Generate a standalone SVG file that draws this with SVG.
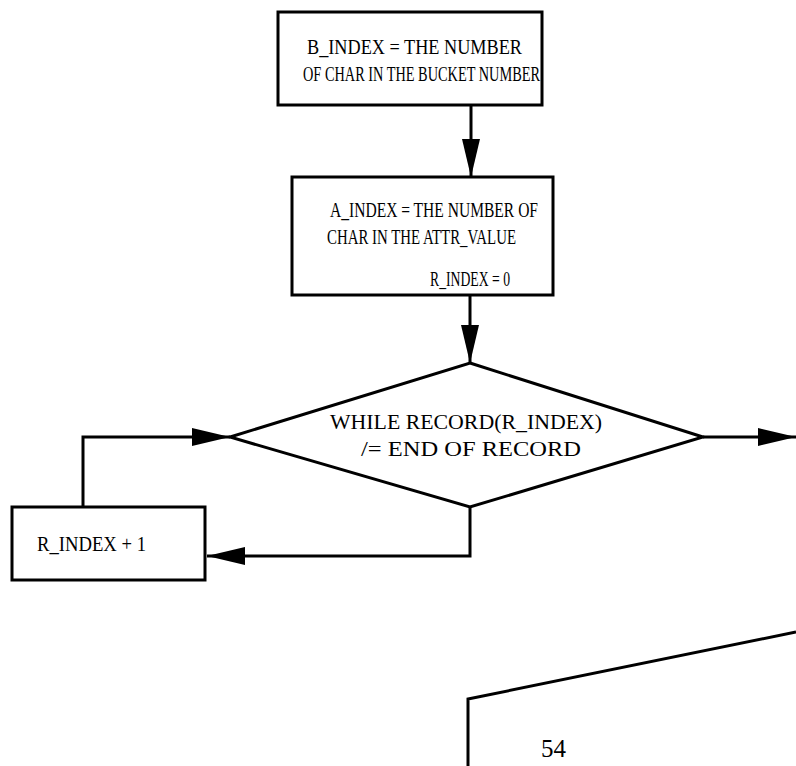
<svg xmlns="http://www.w3.org/2000/svg" width="796" height="766" viewBox="0 0 796 766">
<style>
.s{fill:#fff;stroke:#000;stroke-width:3;stroke-linejoin:miter}
.l{fill:none;stroke:#000;stroke-width:3}
.t{font-family:"Liberation Serif","Times New Roman",serif;font-size:20px;fill:#000}
</style>
<defs>
<marker id="ah" markerUnits="userSpaceOnUse" markerWidth="38" markerHeight="18" refX="38" refY="9" orient="auto">
<path d="M0,0 L38,9 L0,18 Z" fill="#000"/>
</marker>
</defs>
<rect width="796" height="766" fill="#fff"/>
<g id="connectors">
<line class="l" x1="471" y1="105" x2="471" y2="177" marker-end="url(#ah)"/>
<line class="l" x1="470" y1="295" x2="470" y2="363" marker-end="url(#ah)"/>
<line class="l" x1="703" y1="437" x2="796" y2="437" marker-end="url(#ah)"/>
<polyline class="l" points="470,507 470,556 207,556" marker-end="url(#ah)"/>
<polyline class="l" points="83,507 83,437 230,437" marker-end="url(#ah)"/>
</g>
<g id="b_index">
<rect class="s" x="278" y="12" width="264" height="93"/>
<text class="t" x="307" y="54" textLength="215" lengthAdjust="spacingAndGlyphs">B_INDEX = THE NUMBER</text>
<text class="t" x="303" y="81" textLength="237" lengthAdjust="spacingAndGlyphs">OF CHAR IN THE BUCKET NUMBER</text>
</g>
<g id="a_index">
<rect class="s" x="292" y="177" width="261" height="118"/>
<text class="t" x="330" y="217" textLength="208" lengthAdjust="spacingAndGlyphs">A_INDEX = THE NUMBER OF</text>
<text class="t" x="327" y="244" textLength="189" lengthAdjust="spacingAndGlyphs">CHAR IN THE ATTR_VALUE</text>
<text class="t" x="430" y="286" textLength="80" lengthAdjust="spacingAndGlyphs">R_INDEX = 0</text>
</g>
<g id="while">
<polygon class="s" points="470,363 703,437 470,507 230,437"/>
<text class="t" x="330" y="429" textLength="272" lengthAdjust="spacingAndGlyphs">WHILE RECORD(R_INDEX)</text>
<text class="t" x="361" y="456" textLength="220" lengthAdjust="spacingAndGlyphs">/= END OF RECORD</text>
</g>
<g id="r_inc">
<rect class="s" x="12" y="507" width="193" height="73"/>
<text class="t" x="37" y="551" textLength="109" lengthAdjust="spacingAndGlyphs">R_INDEX + 1</text>
</g>
<g id="page">
<polyline class="l" points="796,632 468,699 468,766"/>
<text class="t" x="541" y="757" style="font-size:25px">54</text>
</g>
</svg>
